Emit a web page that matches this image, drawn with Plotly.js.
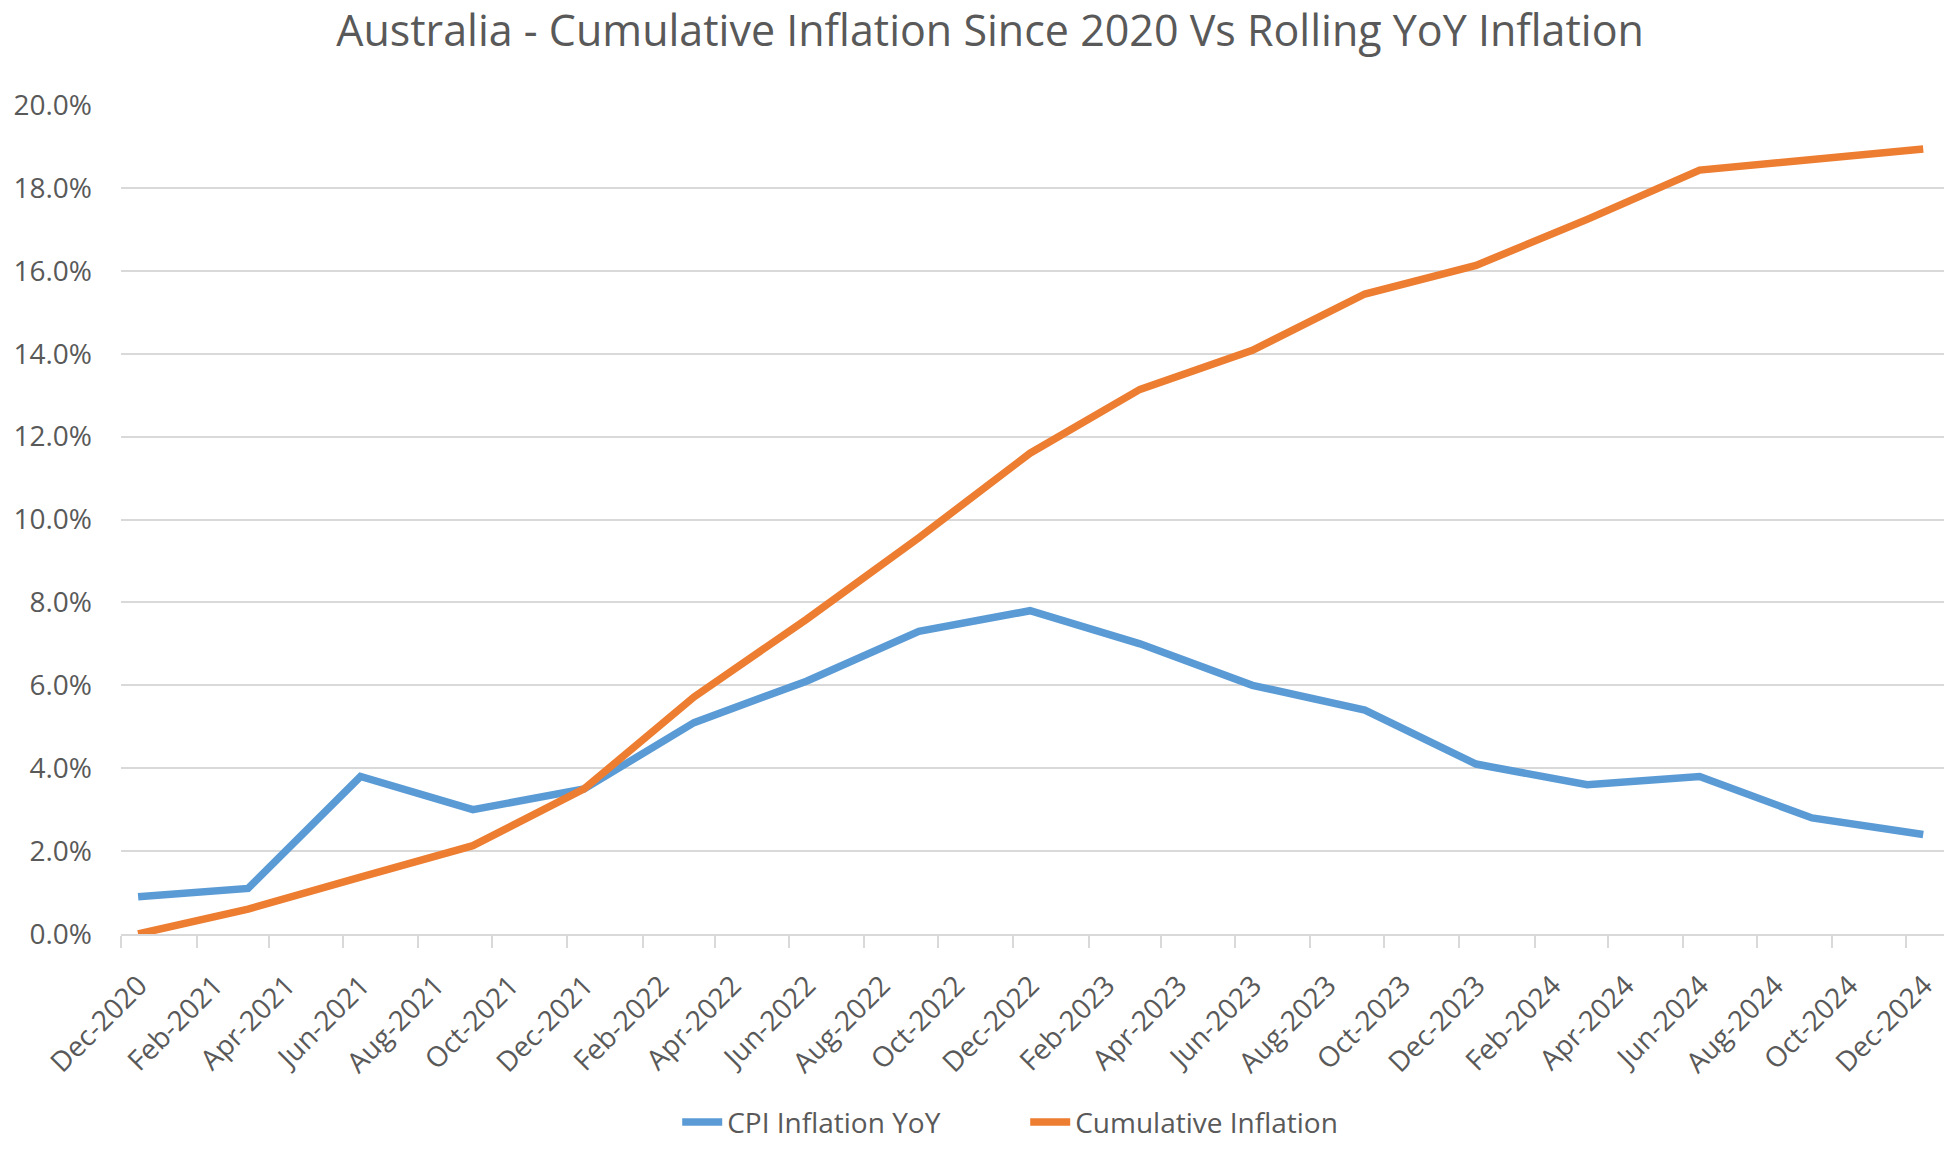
<!DOCTYPE html>
<html>
<head>
<meta charset="utf-8">
<script src="https://cdn.plot.ly/plotly-3.0.1.min.js"></script>
<style>
html,body{margin:0;padding:0;background:#fff;}
#chart{width:1954px;height:1157px;}
</style>
</head>
<body>
<div id="chart"></div>
<script>
// Quarterly observation dates (plotted mid-month, as on an Excel date axis)
const dates = ["2020-12-15","2021-03-15","2021-06-15","2021-09-15","2021-12-15",
               "2022-03-15","2022-06-15","2022-09-15","2022-12-15",
               "2023-03-15","2023-06-15","2023-09-15","2023-12-15",
               "2024-03-15","2024-06-15","2024-09-15","2024-12-15"];
// CPI Inflation YoY (%)
const cpiYoY = [0.9, 1.1, 3.8, 3.0, 3.5, 5.1, 6.1, 7.3, 7.8, 7.0, 6.0, 5.4, 4.1, 3.6, 3.8, 2.8, 2.4];
// Cumulative inflation since Dec-2020 (%)
const cumulative = [0.0, 0.6, 1.37, 2.13, 3.5, 5.72, 7.59, 9.56, 11.6, 13.14, 14.08, 15.44, 16.13, 17.24, 18.43, 18.69, 18.94];
const seriesNames = ["CPI Inflation YoY", "Cumulative Inflation"];
const titleText = "Australia - Cumulative Inflation Since 2020 Vs Rolling YoY Inflation";

const grey = "#595959";
const fontFam = "'Open Sans', 'DejaVu Sans', sans-serif";

const traces = [
  {x: dates, y: cpiYoY.map(v => v/100), name: seriesNames[0], type: "scatter", mode: "lines",
   line: {color: "#5B9BD5", width: 7.5}},
  {x: dates, y: cumulative.map(v => v/100), name: seriesNames[1], type: "scatter", mode: "lines",
   line: {color: "#ED7D31", width: 7.5}}
];

const layout = {
  width: 1954, height: 1157,
  paper_bgcolor: "#fff", plot_bgcolor: "#fff",
  margin: {l: 121, r: 10, t: 105, b: 216},
  title: {text: titleText, font: {family: fontFam, size: 43, color: grey},
          x: 0.5067, xanchor: "center", y: 0.973, yanchor: "middle"},
  showlegend: true,
  legend: {orientation: "h", x: 0.496, xanchor: "center", y: -0.227, yanchor: "middle",
           font: {family: fontFam, size: 28, color: grey}, itemwidth: 40,
           entrywidth: 293, entrywidthmode: "pixels", tracegroupgap: 0},
  xaxis: {type: "date", range: ["2020-12-01", "2025-01-01"],
          tick0: "2020-12-01", dtick: "M2", tickformat: "%b-%Y", tickangle: -45,
          tickfont: {family: fontFam, size: 28, color: grey},
          ticklabelshift: 18, ticklabelstandoff: 10,
          showgrid: false, showline: true, linecolor: "#D9D9D9", linewidth: 2,
          ticks: "outside", ticklen: 12, tickcolor: "#D9D9D9", tickwidth: 2,
          zeroline: false, fixedrange: true},
  yaxis: {range: [0, 0.2], dtick: 0.02, tick0: 0, tickformat: ".1%",
          tickfont: {family: fontFam, size: 28, color: grey},
          showgrid: true, gridcolor: "#D9D9D9", gridwidth: 2,
          zeroline: false, showline: false, ticks: "", ticklabelstandoff: 28, fixedrange: true}
};

Plotly.newPlot("chart", traces, layout, {displayModeBar: false, staticPlot: true});
</script>
</body>
</html>
